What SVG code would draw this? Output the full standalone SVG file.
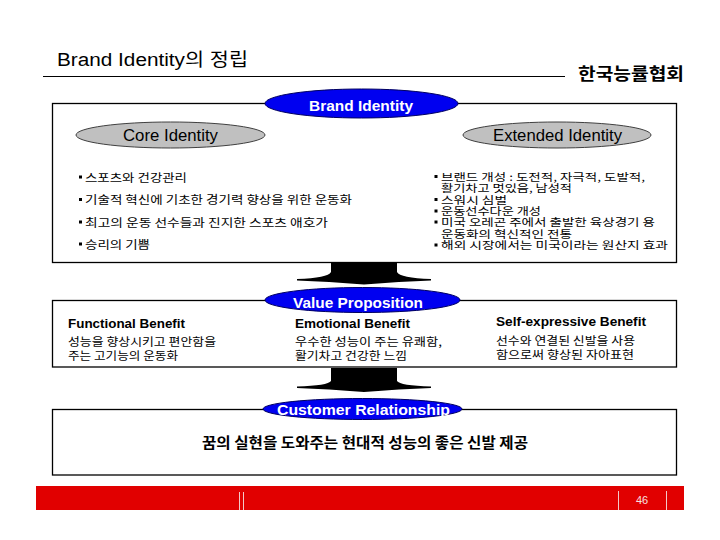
<svg xmlns="http://www.w3.org/2000/svg" width="720" height="540" viewBox="0 0 720 540">
<style>
.lat{font-family:"Liberation Sans","Noto Sans CJK KR",Arial,sans-serif;}
.kr{font-family:"Noto Sans CJK KR","Liberation Sans",sans-serif;}
.box{fill:none;stroke:#000;stroke-width:1.3;}
.blue{fill:#0000f0;stroke:#000060;stroke-width:1;}
.gray{fill:#c0c0c0;stroke:#404040;stroke-width:1;}
.wt{fill:#fff;font-weight:bold;}
.head{font-size:13.5px;font-weight:bold;fill:#000;}
.b2{font-size:11px;fill:#000;}
.bl{font-size:11.5px;fill:#000;}
.br{font-size:10.2px;fill:#000;}
.arrow{fill:#000;}
.sep{stroke:#f2c8c8;stroke-width:1;}
</style>
<rect width="720" height="540" fill="#fff"/>

<g id="title">
  <text class="lat" x="57" y="66" font-size="18" textLength="191" lengthAdjust="spacingAndGlyphs">Brand Identity의 정립</text>
  <line x1="43" y1="76.5" x2="565" y2="76.5" stroke="#000" stroke-width="1"/>
</g>
<g id="org">
  <text class="kr" x="578" y="80" font-size="17" font-weight="bold" textLength="106" lengthAdjust="spacingAndGlyphs">한국능률협회</text>
</g>

<g id="brand-identity">
  <rect class="box" x="52.5" y="103.5" width="624" height="159"/>
  <ellipse class="blue" cx="361.5" cy="103.5" rx="96.5" ry="14.5"/>
  <text class="lat wt" x="361" y="110.5" font-size="14.5" text-anchor="middle" textLength="104" lengthAdjust="spacingAndGlyphs">Brand Identity</text>
</g>

<g id="core-identity">
  <ellipse class="gray" cx="170.5" cy="135" rx="94.5" ry="13"/>
  <text class="lat" x="170.5" y="140.5" font-size="16" text-anchor="middle" textLength="95" lengthAdjust="spacingAndGlyphs">Core Identity</text>
  <g class="kr bl">
    <rect x="79" y="175.5" width="3" height="3"/>
    <text x="85" y="181.5" textLength="102" lengthAdjust="spacingAndGlyphs">스포츠와 건강관리</text>
    <rect x="79" y="198" width="3" height="3"/>
    <text x="85" y="204" textLength="267" lengthAdjust="spacingAndGlyphs">기술적 혁신에 기초한 경기력 향상을 위한 운동화</text>
    <rect x="79" y="220.5" width="3" height="3"/>
    <text x="85" y="226.5" textLength="243" lengthAdjust="spacingAndGlyphs">최고의 운동 선수들과 진지한 스포츠 애호가</text>
    <rect x="79" y="242.5" width="3" height="3"/>
    <text x="85" y="248.5" textLength="65" lengthAdjust="spacingAndGlyphs">승리의 기쁨</text>
  </g>
</g>

<g id="extended-identity">
  <ellipse class="gray" cx="557" cy="135" rx="94" ry="13"/>
  <text class="lat" x="557.5" y="140.5" font-size="16" text-anchor="middle" textLength="129" lengthAdjust="spacingAndGlyphs">Extended Identity</text>
  <g class="kr br">
    <rect x="434.5" y="175" width="3" height="3"/>
    <text x="441" y="180.5" textLength="204" lengthAdjust="spacingAndGlyphs">브랜드 개성 : 도전적, 자극적, 도발적,</text>
    <text x="441" y="192" textLength="131" lengthAdjust="spacingAndGlyphs">활기차고 멋있음, 남성적</text>
    <rect x="434.5" y="198" width="3" height="3"/>
    <text x="441" y="203.5" textLength="66" lengthAdjust="spacingAndGlyphs">스워시 심벌</text>
    <rect x="434.5" y="209.5" width="3" height="3"/>
    <text x="441" y="215" textLength="100" lengthAdjust="spacingAndGlyphs">운동선수다운 개성</text>
    <rect x="434.5" y="220.5" width="3" height="3"/>
    <text x="441" y="226" textLength="214" lengthAdjust="spacingAndGlyphs">미국 오레곤 주에서 출발한 육상경기 용</text>
    <text x="441" y="237.5" textLength="131" lengthAdjust="spacingAndGlyphs">운동화의 혁신적인 전통</text>
    <rect x="434.5" y="243.5" width="3" height="3"/>
    <text x="441" y="249" textLength="227" lengthAdjust="spacingAndGlyphs">해외 시장에서는 미국이라는 원산지 효과</text>
  </g>
</g>

<g id="connectors">
  <path class="arrow" d="M331,263 H397 V272 Q400,278 431,279 L431,280.5 Q400,281.5 364,284.5 Q328,281.5 297,280.5 L297,279 Q328,278 331,272 Z"/>
  <path class="arrow" d="M331,368 H397 V381 Q400,385.5 431,386.5 L431,388 Q400,389 364,392 Q328,389 297,388 L297,386.5 Q328,385.5 331,381 Z"/>
</g>

<g id="value-proposition">
  <rect class="box" x="52.5" y="300.5" width="624" height="66.5"/>
  <ellipse class="blue" cx="362.5" cy="300" rx="97.5" ry="12.5"/>
  <text class="lat wt" x="358" y="308" font-size="15" text-anchor="middle" textLength="130" lengthAdjust="spacingAndGlyphs">Value Proposition</text>
</g>

<g id="functional-benefit">
  <text class="lat head" x="68" y="327.5" textLength="117" lengthAdjust="spacingAndGlyphs">Functional Benefit</text>
  <text class="kr b2" x="68" y="346" textLength="148" lengthAdjust="spacingAndGlyphs">성능을 향상시키고 편안함을</text>
  <text class="kr b2" x="68" y="359.5" textLength="110" lengthAdjust="spacingAndGlyphs">주는 고기능의 운동화</text>
</g>

<g id="emotional-benefit">
  <text class="lat head" x="295" y="327.5" textLength="115" lengthAdjust="spacingAndGlyphs">Emotional Benefit</text>
  <text class="kr b2" x="295" y="345.5" textLength="147" lengthAdjust="spacingAndGlyphs">우수한 성능이 주는 유쾌함,</text>
  <text class="kr b2" x="295" y="359.5" textLength="112" lengthAdjust="spacingAndGlyphs">활기차고 건강한 느낌</text>
</g>

<g id="self-expressive-benefit">
  <text class="lat head" x="496" y="326" textLength="150" lengthAdjust="spacingAndGlyphs">Self-expressive Benefit</text>
  <text class="kr b2" x="496" y="344.5" textLength="139" lengthAdjust="spacingAndGlyphs">선수와 연결된 신발을 사용</text>
  <text class="kr b2" x="496" y="358.5" textLength="138" lengthAdjust="spacingAndGlyphs">함으로써 향상된 자아표현</text>
</g>

<g id="customer-relationship">
  <rect class="box" x="52.5" y="409.5" width="624" height="65.5"/>
  <ellipse class="blue" cx="362.5" cy="409" rx="99.5" ry="10.5"/>
  <text class="lat wt" x="363.5" y="415" font-size="15.5" text-anchor="middle" textLength="173" lengthAdjust="spacingAndGlyphs">Customer Relationship</text>
  <text class="kr" x="365" y="448" font-size="14.3" font-weight="bold" text-anchor="middle" textLength="326" lengthAdjust="spacingAndGlyphs">꿈의 실현을 도와주는 현대적 성능의 좋은 신발 제공</text>
</g>

<g id="footer">
  <rect x="36" y="486" width="648" height="24" fill="#e10000"/>
  <line class="sep" x1="239.5" y1="492" x2="239.5" y2="510"/>
  <line class="sep" x1="243.5" y1="492" x2="243.5" y2="510"/>
  <line class="sep" x1="618.5" y1="491" x2="618.5" y2="510"/>
  <line class="sep" x1="666.5" y1="491" x2="666.5" y2="510"/>
  <text class="lat" x="642" y="503.5" font-size="11" fill="#f6e0e0" text-anchor="middle">46</text>
</g>
</svg>
